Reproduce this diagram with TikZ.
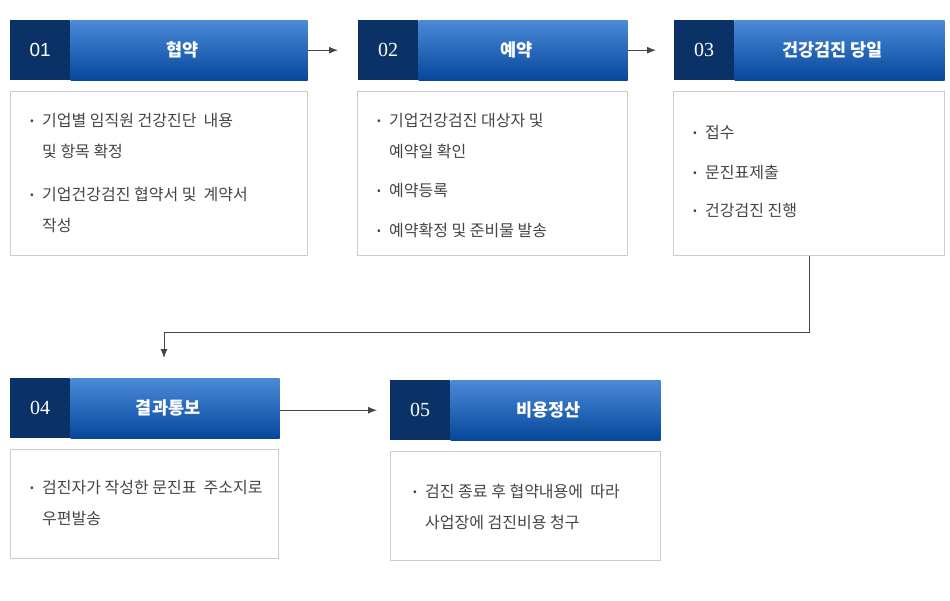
\documentclass[tikz,border=0pt]{standalone}
\usepackage{fontspec}
\setmainfont{Noto Sans CJK KR}
\newfontfamily\numfont{Liberation Serif}
\newfontfamily\numsans{Liberation Sans}
\usetikzlibrary{arrows.meta,positioning,calc}

\definecolor{hdtop}{HTML}{4A8AD8}
\definecolor{hdbot}{HTML}{07479B}
\definecolor{numdark}{HTML}{0A3266}
\definecolor{rimgray}{HTML}{CCCCCC}
\definecolor{txtgray}{HTML}{444444}
\definecolor{lnkgray}{HTML}{444444}

\newcommand{\bul}{\makebox[12pt][l]{\raisebox{1.5pt}{\fontsize{11}{11}\selectfont •}}}
\newcommand{\ind}{\hspace*{12pt}}

\begin{document}
\begin{tikzpicture}[
  x=1pt, y=-1pt,
  num/.style={
    rectangle, fill=numdark, anchor=north west, inner sep=0pt,
    minimum width=60pt, minimum height=60pt,
    text=white, font=\numfont\fontsize{20}{20}\selectfont},
  title/.style={
    rectangle, top color=hdtop, bottom color=hdbot, inner sep=0pt,
    minimum height=60pt, text=white,
    font=\bfseries\fontsize{17.5}{17.5}\selectfont,
    execute at begin node=\hspace*{-14pt}},
  body/.style={
    rectangle, draw=rimgray, line width=1pt, anchor=north west,
    inner sep=0pt},
  item/.style={
    anchor=base west, align=left, inner sep=0pt,
    text=txtgray, font=\fontsize{16}{31}\selectfont},
  arr/.style={-{Latex[length=9pt,width=7pt]}, draw=lnkgray, line width=1pt},
]
  \useasboundingbox (0,0) rectangle (950,600);

  % ── Step headers ────────────────────────────────────────────────────────
  \node[num, font=\numsans\fontsize{19}{19}\selectfont] (n1) at (10,20) {01};
  \node[title, minimum width=237pt, right=0pt of n1] (t1) {협약};
  \node[num] (n2) at (358,20) {02};
  \node[title, minimum width=209pt, right=0pt of n2] (t2) {예약};
  \node[num] (n3) at (674,20) {03};
  \node[title, minimum width=210pt, right=0pt of n3] (t3) {건강검진 당일};
  \node[num] (n4) at (10,378) {04};
  \node[title, minimum width=209pt, right=0pt of n4] (t4) {결과통보};
  \node[num] (n5) at (390,380) {05};
  \node[title, minimum width=210pt, right=0pt of n5] (t5) {비용정산};

  % ── Content boxes ───────────────────────────────────────────────────────
  \node[body, minimum width=297pt, minimum height=164pt] (b1) at (10,91) {};
  \node[body, minimum width=270pt, minimum height=164pt] (b2) at (357,91) {};
  \node[body, minimum width=271pt, minimum height=164pt] (b3) at (673,91) {};
  \node[body, minimum width=268pt, minimum height=109pt] (b4) at (10,449) {};
  \node[body, minimum width=270pt, minimum height=109pt] (b5) at (390,451) {};

  % ── Bullet items (base = last line) ─────────────────────────────────────
  \node[item] (i11) at (30,157)
      {\bul 기업별 임직원 건강진단 \ 내용\\\ind 및 항목 확정};
  \node[item] (i12) at (30,231)
      {\bul 기업건강검진 협약서 및 \ 계약서\\\ind 작성};

  \node[item] (i21) at (377,157)
      {\bul 기업건강검진 대상자 및\\\ind 예약일 확인};
  \node[item] (i22) at (377,196) {\bul 예약등록};
  \node[item] (i23) at (377,236) {\bul 예약확정 및 준비물 발송};

  \node[item] (i31) at (693,138) {\bul 접수};
  \node[item] (i32) at (693,178) {\bul 문진표제출};
  \node[item] (i33) at (693,216) {\bul 건강검진 진행};

  \node[item] (i41) at (30,524)
      {\bul 검진자가 작성한 문진표 \ 주소지로\\\ind 우편발송};

  \node[item] (i51) at (413,528)
      {\bul 검진 종료 후 협약내용에 \ 따라\\\ind 사업장에 검진비용 청구};

  % ── Flow arrows ─────────────────────────────────────────────────────────
  \draw[arr, shorten >=20pt] (t1.east) -- (n2.west);
  \draw[arr, shorten >=18pt] (t2.east) -- (n3.west);
  \draw[arr, shorten >=13pt] (t4.east |- n5.west) -- (n5.west);

  % drop from step 3 down to step 4
  \coordinate (drop) at ($(n4.north west)+(154,-20)$);
  \draw[arr] (b3.south) |- ($(drop)+(0,-26)$) -- (drop);

\end{tikzpicture}
\end{document}
